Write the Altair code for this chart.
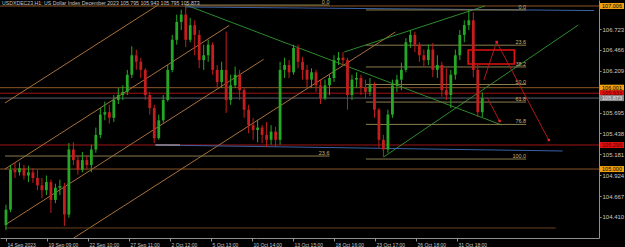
import altair as alt
import pandas as pd

# ---------------- data ----------------
title_text = "USDXDEC23,H1:  US Dollar Index December 2023  105.795 105.943 105.795 105.873"

# candles (each drawn candle groups 8 hourly bars)
opens = [104.31, 104.50, 104.99, 104.96, 105.01, 104.92, 104.96, 104.89, 104.80, 104.74,
         104.84, 104.62, 104.77, 104.79, 104.44, 105.24, 105.11, 104.99, 105.11, 105.05,
         105.24, 105.42, 105.67, 105.70, 105.63, 105.85, 105.91, 105.95, 106.16, 106.40,
         106.32, 106.22, 105.91, 105.75, 105.38, 105.60, 105.85, 106.22, 106.59, 106.81,
         106.90, 106.59, 106.77, 106.65, 106.34, 106.40, 106.53, 106.22, 106.07, 106.22,
         105.85, 106.03, 106.16, 105.97, 105.73, 105.54, 105.48, 105.51, 105.42, 105.36,
         105.46, 105.36, 106.22, 106.28, 106.19, 106.49, 106.32, 106.22, 106.10, 106.19,
         106.03, 105.87, 106.03, 106.12, 106.34, 106.37, 106.34, 105.91, 106.10, 106.12,
         106.00, 105.95, 106.03, 105.73, 105.36, 105.24, 105.67, 106.03, 106.10, 106.22,
         106.56, 106.65, 106.53, 106.40, 106.34, 106.47, 106.22, 106.28, 105.97, 105.91,
         106.16, 106.40, 106.65, 106.77, 106.83, 106.22, 105.70]
highs = [104.56, 105.05, 105.08, 105.08, 105.05, 105.04, 105.01, 104.99, 104.89, 104.92,
         104.87, 104.82, 104.87, 104.83, 105.32, 105.33, 105.17, 105.21, 105.17, 105.30,
         105.51, 105.75, 105.83, 105.79, 105.91, 106.00, 106.03, 106.22, 106.51, 106.47,
         106.37, 106.24, 105.95, 105.79, 105.67, 105.91, 106.28, 106.65, 106.90, 106.96,
         107.01, 106.86, 106.83, 106.71, 106.53, 106.59, 106.56, 106.28, 106.32, 106.69,
         106.16, 106.26, 106.22, 106.00, 105.79, 105.63, 105.60, 105.54, 105.58, 105.54,
         105.52, 106.32, 106.37, 106.34, 106.53, 106.53, 106.38, 106.28, 106.24, 106.22,
         106.10, 106.10, 106.16, 106.40, 106.44, 106.44, 106.37, 106.16, 106.19, 106.16,
         106.10, 106.12, 106.07, 105.75, 105.42, 105.73, 106.10, 106.16, 106.31, 106.61,
         106.71, 106.69, 106.56, 106.47, 106.53, 106.55, 106.40, 106.32, 106.24, 106.22,
         106.47, 106.71, 106.83, 106.96, 106.93, 106.28, 105.943]
lows = [104.25, 104.47, 104.89, 104.92, 104.87, 104.84, 104.83, 104.74, 104.64, 104.68,
        104.46, 104.58, 104.68, 104.30, 104.40, 105.05, 104.93, 104.96, 104.99, 104.96,
        105.20, 105.38, 105.60, 105.56, 105.58, 105.80, 105.85, 105.91, 106.12, 106.22,
        106.12, 105.85, 105.67, 105.32, 105.36, 105.57, 105.83, 106.19, 106.53, 106.71,
        106.50, 106.56, 106.40, 106.24, 106.22, 106.32, 106.16, 106.00, 106.00, 105.69,
        105.79, 106.00, 105.85, 105.63, 105.44, 105.36, 105.33, 105.32, 105.27, 105.30,
        105.27, 105.30, 106.12, 106.12, 106.16, 106.24, 106.10, 106.01, 106.00, 105.95,
        105.80, 105.85, 105.91, 106.07, 106.28, 106.27, 105.73, 105.85, 106.00, 105.91,
        105.87, 105.90, 105.63, 105.26, 105.15, 105.20, 105.63, 105.95, 105.97, 106.19,
        106.49, 106.44, 106.32, 106.26, 106.28, 106.13, 106.12, 105.89, 105.85, 105.75,
        106.10, 106.34, 106.56, 106.71, 106.13, 105.64, 105.64]
closes = [104.50, 104.99, 104.96, 105.01, 104.92, 104.96, 104.89, 104.80, 104.74, 104.84,
          104.62, 104.77, 104.79, 104.44, 105.24, 105.11, 104.99, 105.11, 105.05, 105.24,
          105.42, 105.67, 105.70, 105.63, 105.85, 105.91, 105.95, 106.16, 106.40, 106.32,
          106.22, 105.91, 105.75, 105.38, 105.60, 105.85, 106.22, 106.59, 106.81, 106.90,
          106.59, 106.77, 106.65, 106.34, 106.40, 106.53, 106.22, 106.07, 106.22, 105.85,
          106.03, 106.16, 105.97, 105.73, 105.54, 105.48, 105.51, 105.42, 105.36, 105.46,
          105.36, 106.22, 106.28, 106.19, 106.49, 106.32, 106.22, 106.10, 106.19, 106.03,
          105.87, 106.03, 106.12, 106.34, 106.37, 106.34, 105.91, 106.10, 106.12, 106.00,
          105.95, 106.03, 105.73, 105.36, 105.24, 105.67, 106.03, 106.10, 106.22, 106.56,
          106.65, 106.53, 106.40, 106.34, 106.47, 106.22, 106.28, 105.97, 105.91, 106.16,
          106.40, 106.65, 106.77, 106.83, 106.22, 105.70, 105.873]
bars_per_candle = 8

x_tick_bars = [0, 73, 146, 219, 292, 365, 438, 511, 584, 657, 730, 803]
x_tick_labels = ["14 Sep 2023", "19 Sep 09:00", "22 Sep 10:00", "27 Sep 11:00",
                 "2 Oct 12:00", "5 Oct 13:00", "10 Oct 14:00", "13 Oct 15:00",
                 "18 Oct 16:00", "23 Oct 17:00", "26 Oct 18:00", "31 Oct 18:00"]
y_tick_values = [106.723, 106.466, 106.209, 105.695, 105.438, 105.181, 104.924, 104.667, 104.410]

# full-width horizontal levels and their price tags
level_prices = [107.006, 106.001, 105.933, 105.873, 105.296, 105.000]
level_kinds = ["orange", "orange", "red", "bid", "red", "orange"]

# drawn trend / channel segments: (bar, price) -> (bar, price)
seg_bar1 = [-1.75, -1.75, -1.75, 120.8, 320.4, 602.2, 672.3, 318.6, 266.1, 266.1, -1.75]
seg_p1 = [105.813, 105.000, 104.312, 104.152, 107.018, 106.440, 105.148, 106.994, 105.296, 105.296, 104.275]
seg_bar2 = [269.6, 397.4, 458.7, 693.3, 882.4, 852.6, 1018.9, 1046.9, 990.9, 309.9, 978.6]
seg_p2 = [107.013, 106.767, 106.350, 106.686, 105.542, 107.006, 106.772, 106.950, 105.222, 105.296, 104.275]
seg_kind = ["tan", "tan", "tan", "tan", "green", "green", "green", "blue", "blue", "silver", "brown"]

# Fibonacci retracement #1 (partly visible)
fib1_labels = ["0.0", "23.6"]
fib1_prices = [107.018, 105.160]
fib1_start = [318.6, -1.75]
fib1_end = 576.0

# Fibonacci retracement #2
fib2_labels = ["0.0", "23.6", "38.2", "50.0", "61.8", "76.8", "100.0"]
fib2_prices = [106.957, 106.524, 106.256, 106.040, 105.824, 105.549, 105.123]
fib2_start = 640.8
fib2_end = 926.1

# red target box and forecast arrows
box_bars = [822.8, 905.1]
box_prices = [106.465, 106.292]
arrow_id = ["a", "a", "a", "b", "b"]
arrow_bars = [850.8, 873.6, 966.4, 856.1, 878.9]
arrow_prices = [106.096, 106.563, 105.357, 105.886, 105.591]
arrow_dot = [False, True, True, False, True]

# ---------------- styles ----------------
W, H = 599, 238
XDOM = [-1.75, 1046.9]
YDOM = [104.1516, 107.0798]
FONT = "Liberation Sans"
line_palette = {"tan": "#a8703c", "green": "#2d8a2d", "blue": "#3b62a6", "silver": "#b0b0b0",
                "brown": "#6a4020", "orange": "#8a5526", "red": "#a01414", "bid": "#5a6070"}
tag_bg = {"orange": "#f0a010", "red": "#dd1010", "bid": "#8a8a8a"}
tag_fg = {"orange": "#000000", "red": "#5a0000", "bid": "#e8e8e8"}
UP, DOWN = "#25a825", "#c41e1e"

xsc = alt.Scale(domain=XDOM, nice=False, zero=False)
ysc = alt.Scale(domain=YDOM, nice=False, zero=False)

label_expr = " : ".join(f"datum.value == {b} ? '{t}'" for b, t in zip(x_tick_bars, x_tick_labels)) + " : ''"

x_axis = alt.Axis(values=x_tick_bars, labelExpr=label_expr, labelAlign="left", labelOffset=1,
                  labelColor="#c8c8c8", labelFont=FONT, labelFontSize=5, labelPadding=1,
                  labelOverlap=False, labelFlush=False, tickColor="#909090", tickSize=3,
                  domainColor="#909090", grid=False, title=None)
y_axis = alt.Axis(orient="right", values=y_tick_values, format=".3f", labelColor="#c8c8c8",
                  labelFont=FONT, labelFontSize=6, labelPadding=1, labelOverlap=False,
                  labelFlush=False, tickColor="#909090", tickSize=2, domainColor="#909090",
                  grid=False, title=None)


def X(f):
    return alt.X(f, type="quantitative", scale=xsc, axis=x_axis)


def Y(f):
    return alt.Y(f, type="quantitative", scale=ysc, axis=y_axis)


candles = pd.DataFrame({
    "bar": [i * bars_per_candle for i in range(len(opens))],
    "open": opens, "high": highs, "low": lows, "close": closes,
})

color_cond = alt.condition("datum.close < datum.open", alt.value(DOWN), alt.value(UP))

wicks = alt.Chart(candles).mark_rule(strokeWidth=1, clip=True).encode(
    x=X("bar"), y=Y("low"), y2="high", color=color_cond,
)
bodies = alt.Chart(candles).mark_bar(size=2.8, clip=True).encode(
    x=X("bar"), y=Y("open"), y2="close", color=color_cond,
)

levels_df = pd.DataFrame({"p": level_prices, "c": [line_palette[k] for k in level_kinds]})
levels = alt.Chart(levels_df).mark_rule(strokeWidth=1).encode(
    y=Y("p"), color=alt.Color("c:N", scale=None),
)

segs_df = pd.DataFrame({"b1": seg_bar1, "p1": seg_p1, "b2": seg_bar2, "p2": seg_p2,
                        "c": [line_palette[k] for k in seg_kind]})
segs = alt.Chart(segs_df).mark_rule(strokeWidth=1, clip=True).encode(
    x=X("b1"), y=Y("p1"), x2="b2", y2="p2", color=alt.Color("c:N", scale=None),
)

fib_rows = [{"b1": s, "b2": fib1_end, "p": p, "t": t} for s, p, t in zip(fib1_start, fib1_prices, fib1_labels)]
fib_rows += [{"b1": fib2_start, "b2": fib2_end, "p": p, "t": t} for p, t in zip(fib2_prices, fib2_labels)]
fib_df = pd.DataFrame(fib_rows)
fib_lines = alt.Chart(fib_df).mark_rule(strokeWidth=1, color="#8a7d4e", clip=True).encode(
    x=X("b1"), x2="b2", y=Y("p"), y2="p",
)
fib_text = alt.Chart(fib_df).mark_text(align="right", baseline="middle", dy=-3, fontSize=5.5,
                                       font=FONT, color="#c4b27c").encode(
    x=X("b2"), y=Y("p"), text="t:N",
)

box_df = pd.DataFrame({"b1": [box_bars[0]], "b2": [box_bars[1]], "p1": [box_prices[0]], "p2": [box_prices[1]]})
box = alt.Chart(box_df).mark_rect(fillOpacity=0, stroke="#e41010", strokeWidth=1.6).encode(
    x=X("b1"), x2="b2", y=Y("p1"), y2="p2",
)

arrow_df = pd.DataFrame({"id": arrow_id, "bar": arrow_bars, "price": arrow_prices, "dot": arrow_dot,
                         "o": list(range(len(arrow_id)))})
arrows = alt.Chart(arrow_df).mark_line(strokeWidth=1, color="#b01818").encode(
    x=X("bar"), y=Y("price"), detail="id:N", order="o:Q",
)
dots = alt.Chart(arrow_df).transform_filter("datum.dot").mark_square(size=6, color="#e82020", opacity=1).encode(
    x=X("bar"), y=Y("price"),
)

tags_df = pd.DataFrame({"p": level_prices, "t": [f"{p:.3f}" for p in level_prices],
                        "bg": [tag_bg[k] for k in level_kinds], "fg": [tag_fg[k] for k in level_kinds]})
tag_boxes = alt.Chart(tags_df).mark_tick(orient="horizontal", thickness=6, size=24, opacity=1).encode(
    y=Y("p"), x=alt.value(W + 13), color=alt.Color("bg:N", scale=None),
)
tag_text = alt.Chart(tags_df).mark_text(fontSize=5.5, font=FONT, align="center", baseline="middle").encode(
    y=Y("p"), x=alt.value(W + 13), text="t:N", color=alt.Color("fg:N", scale=None),
)

title = alt.Chart(pd.DataFrame({"t": [title_text]})).mark_text(
    align="left", baseline="top", fontSize=5.2, font=FONT, color="#c8c8c8").encode(
    x=alt.value(2), y=alt.value(1), text="t:N",
)

chart = alt.layer(
    levels, segs, fib_lines, fib_text, wicks, bodies, box, arrows, dots, tag_boxes, tag_text, title,
).properties(
    width=W, height=H,
    autosize=alt.AutoSizeParams(type="none"),
    padding={"left": 0, "top": 0, "right": 26, "bottom": 9},
).configure(background="#000000").configure_view(stroke=None)

chart.save("out.html", embed_options={"renderer": "svg", "actions": False})
